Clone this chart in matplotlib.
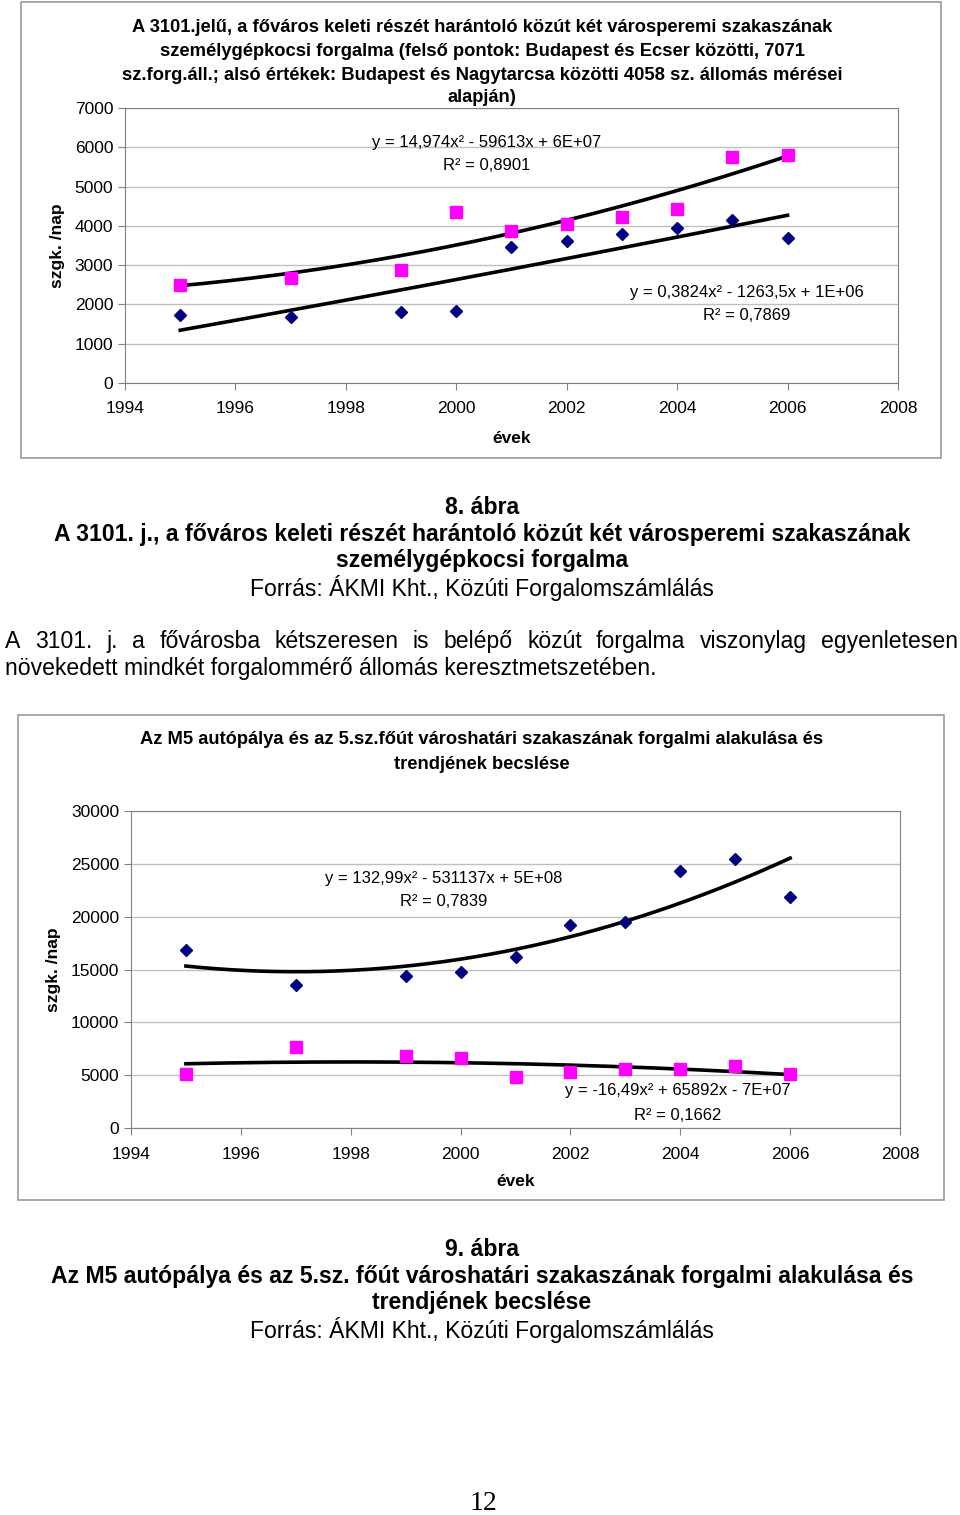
import numpy as np
import matplotlib
matplotlib.use("Agg")
import matplotlib.pyplot as plt
from matplotlib.patches import Rectangle

plt.rcParams['font.family'] = ['Liberation Sans', 'DejaVu Sans']

W, H = 960, 1515

# chart 1 (3101 road)
years1 = [1995, 1997, 1999, 2000, 2001, 2002, 2003, 2004, 2005, 2006]
ecser = [2500, 2670, 2870, 4350, 3860, 4050, 4220, 4420, 5750, 5800]
nagytarcsa = [1720, 1680, 1800, 1830, 3450, 3620, 3780, 3950, 4150, 3700]

# chart 2 (M5 / main road 5)
years2 = [1995, 1997, 1999, 2000, 2001, 2002, 2003, 2004, 2005, 2006]
m5 = [16800, 13500, 14400, 14800, 16200, 19200, 19500, 24300, 25500, 21900]
road5 = [5100, 7700, 6800, 6600, 4800, 5300, 5600, 5600, 5900, 5100]

xticks = [1994, 1996, 1998, 2000, 2002, 2004, 2006, 2008]

CAP = 16.6   # caption / body text size
TTL = 13.2   # chart title size

fig = plt.figure(figsize=(W / 100, H / 100), dpi=100)


def fx(x):
    return x / W


def fy(y):
    return 1 - y / H


def frame(l, t, r, b):
    fig.patches.append(Rectangle((fx(l), fy(b)), fx(r - l), (b - t) / H,
                                 transform=fig.transFigure, fill=False,
                                 edgecolor='#9a9a9a', lw=1.2))


def make_axes(l, t, r, b):
    ax = fig.add_axes([fx(l), fy(b), fx(r - l), (b - t) / H])
    for s in ax.spines.values():
        s.set_color('#808080')
    ax.tick_params(colors='#808080', labelcolor='black', labelsize=12.5,
                   direction='out', length=5)
    ax.yaxis.grid(True, color='#c0c0c0', lw=1)
    ax.set_axisbelow(True)
    return ax


def trend(ax, xs, ys):
    c = np.polyfit(xs, ys, 2)
    xx = np.linspace(min(xs), max(xs), 200)
    ax.plot(xx, np.polyval(c, xx), color='black', lw=2.6, zorder=3)


def ctext(y, s, size, bold=False):
    fig.text(fx(482), fy(y), s, ha='center', va='center', fontsize=size,
             fontweight='bold' if bold else 'normal')


def eq(x, y, s):
    fig.text(fx(x), fy(y), s, ha='center', va='center', fontsize=12)


# ---------------- chart 1 ----------------
frame(21, 2, 941, 458)
ax1 = make_axes(125, 108, 898, 383)
ax1.plot(years1, ecser, 's', color='#ff00ff', ms=8, zorder=4)
ax1.plot(years1, nagytarcsa, 'D', color='#000080', ms=6.5, zorder=4)
trend(ax1, years1, ecser)
trend(ax1, years1, nagytarcsa)
ax1.set_xlim(1994, 2008)
ax1.set_ylim(0, 7000)
ax1.set_xticks(xticks)
ax1.set_yticks(range(0, 7001, 1000))
ax1.tick_params(axis='x', pad=8)
ax1.set_xlabel('évek', fontsize=12.5, fontweight='bold', labelpad=11)
ax1.set_ylabel('szgk. /nap', fontsize=12.5, fontweight='bold', labelpad=7)

ctext(27, 'A 3101.jelű, a főváros keleti részét harántoló közút két városperemi szakaszának', TTL, True)
ctext(51, 'személygépkocsi forgalma (felső pontok: Budapest és Ecser közötti, 7071', TTL, True)
ctext(75, 'sz.forg.áll.; alsó értékek: Budapest és Nagytarcsa közötti 4058 sz. állomás mérései', TTL, True)
ctext(98, 'alapján)', TTL, True)

eq(487, 142, 'y = 14,974x² - 59613x + 6E+07')
eq(487, 166, 'R² = 0,8901')
eq(747, 293, 'y = 0,3824x² - 1263,5x + 1E+06')
eq(747, 316, 'R² = 0,7869')

# ---------------- captions / body text ----------------
ctext(507, '8. ábra', CAP, True)
ctext(534, 'A 3101. j., a főváros keleti részét harántoló közút két városperemi szakaszának', CAP, True)
ctext(561, 'személygépkocsi forgalma', CAP, True)
ctext(588, 'Forrás: ÁKMI Kht., Közúti Forgalomszámlálás', CAP)

# justified first line
words = 'A 3101. j. a fővárosba kétszeresen is belépő közút forgalma viszonylag egyenletesen'.split()
x0, x1 = 5, 958
renderer = fig.canvas.get_renderer()
tmp = [fig.text(0, 0, w, fontsize=CAP) for w in words]
widths = [t.get_window_extent(renderer).width for t in tmp]
for t in tmp:
    t.remove()
gap = (x1 - x0 - sum(widths)) / (len(words) - 1)
xp = x0
for w, wd in zip(words, widths):
    fig.text(fx(xp), fy(642), w, ha='left', va='center', fontsize=CAP)
    xp += wd + gap
fig.text(fx(5), fy(668), 'növekedett mindkét forgalommérő állomás keresztmetszetében.',
         ha='left', va='center', fontsize=CAP)

# ---------------- chart 2 ----------------
frame(18, 715, 944, 1200)
ax2 = make_axes(131, 811, 900, 1128)
ax2.plot(years2, m5, 'D', color='#000080', ms=6.5, zorder=4)
ax2.plot(years2, road5, 's', color='#ff00ff', ms=8, zorder=4)
trend(ax2, years2, m5)
trend(ax2, years2, road5)
ax2.set_xlim(1994, 2008)
ax2.set_ylim(0, 30000)
ax2.set_xticks(xticks)
ax2.set_yticks(range(0, 30001, 5000))
ax2.tick_params(axis='x', pad=9)
ax2.set_xlabel('évek', fontsize=12.5, fontweight='bold', labelpad=8)
ax2.set_ylabel('szgk. /nap', fontsize=12.5, fontweight='bold', labelpad=7)

ctext(740, 'Az M5 autópálya és az 5.sz.főút városhatári szakaszának forgalmi alakulása és', TTL, True)
ctext(764, 'trendjének becslése', TTL, True)

eq(444, 878, 'y = 132,99x² - 531137x + 5E+08')
eq(444, 901, 'R² = 0,7839')
eq(678, 1091, 'y = -16,49x² + 65892x - 7E+07')
eq(678, 1115, 'R² = 0,1662')

ctext(1249, '9. ábra', CAP, True)
ctext(1276, 'Az M5 autópálya és az 5.sz. főút városhatári szakaszának forgalmi alakulása és', CAP, True)
ctext(1303, 'trendjének becslése', CAP, True)
ctext(1330, 'Forrás: ÁKMI Kht., Közúti Forgalomszámlálás', CAP)

fig.text(fx(483), fy(1504), '12', ha='center', va='center', fontsize=20,
         family=['Liberation Serif', 'DejaVu Serif'])

fig.savefig('out.png', dpi=100)
